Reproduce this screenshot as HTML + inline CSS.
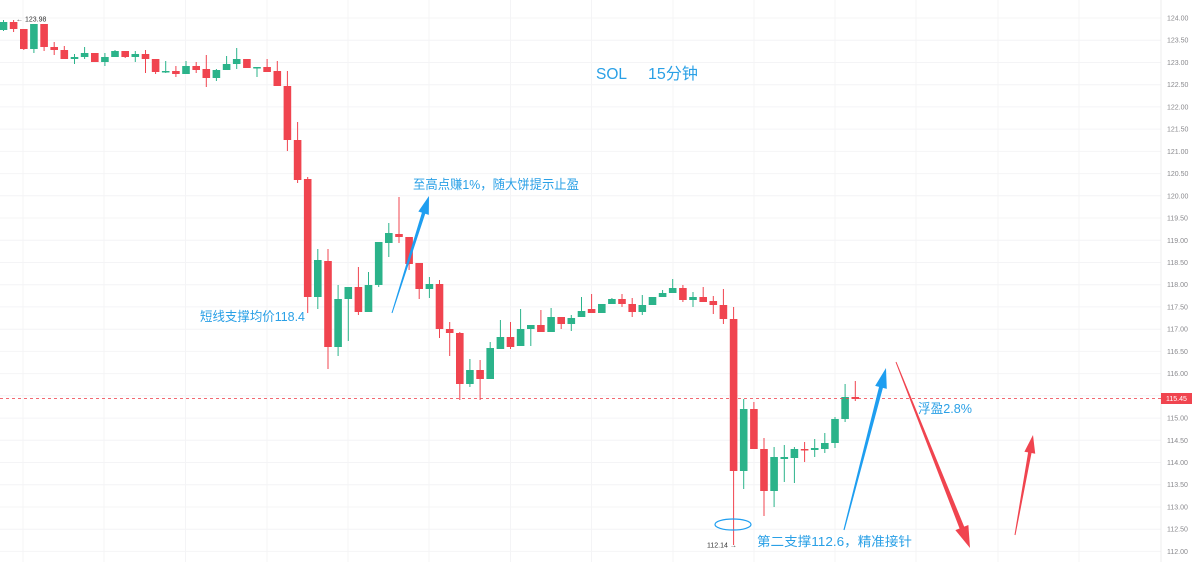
<!DOCTYPE html>
<html><head><meta charset="utf-8"><style>
html,body{margin:0;padding:0;background:#fff;width:1199px;height:562px;overflow:hidden}
svg{display:block}
text{font-family:"Liberation Sans","Noto Sans CJK SC",sans-serif}
</style></head><body>
<svg width="1199" height="562" viewBox="0 0 1199 562" xmlns="http://www.w3.org/2000/svg">
<rect width="1199" height="562" fill="#fff"/>
<g stroke="#f4f4f6" stroke-width="1">
<line x1="0" y1="18" x2="1161" y2="18"/><line x1="0" y1="40.2" x2="1161" y2="40.2"/><line x1="0" y1="62.5" x2="1161" y2="62.5"/><line x1="0" y1="84.7" x2="1161" y2="84.7"/><line x1="0" y1="106.9" x2="1161" y2="106.9"/><line x1="0" y1="129.1" x2="1161" y2="129.1"/><line x1="0" y1="151.4" x2="1161" y2="151.4"/><line x1="0" y1="173.6" x2="1161" y2="173.6"/><line x1="0" y1="195.8" x2="1161" y2="195.8"/><line x1="0" y1="218" x2="1161" y2="218"/><line x1="0" y1="240.3" x2="1161" y2="240.3"/><line x1="0" y1="262.5" x2="1161" y2="262.5"/><line x1="0" y1="284.7" x2="1161" y2="284.7"/><line x1="0" y1="306.9" x2="1161" y2="306.9"/><line x1="0" y1="329.2" x2="1161" y2="329.2"/><line x1="0" y1="351.4" x2="1161" y2="351.4"/><line x1="0" y1="373.6" x2="1161" y2="373.6"/><line x1="0" y1="395.8" x2="1161" y2="395.8"/><line x1="0" y1="418.1" x2="1161" y2="418.1"/><line x1="0" y1="440.3" x2="1161" y2="440.3"/><line x1="0" y1="462.5" x2="1161" y2="462.5"/><line x1="0" y1="484.7" x2="1161" y2="484.7"/><line x1="0" y1="507" x2="1161" y2="507"/><line x1="0" y1="529.2" x2="1161" y2="529.2"/><line x1="0" y1="551.4" x2="1161" y2="551.4"/>
<line x1="23" y1="0" x2="23" y2="562"/><line x1="104" y1="0" x2="104" y2="562"/><line x1="185.5" y1="0" x2="185.5" y2="562"/><line x1="267" y1="0" x2="267" y2="562"/><line x1="348" y1="0" x2="348" y2="562"/><line x1="429" y1="0" x2="429" y2="562"/><line x1="510.5" y1="0" x2="510.5" y2="562"/><line x1="591.5" y1="0" x2="591.5" y2="562"/><line x1="673" y1="0" x2="673" y2="562"/><line x1="754" y1="0" x2="754" y2="562"/><line x1="835" y1="0" x2="835" y2="562"/><line x1="916" y1="0" x2="916" y2="562"/><line x1="998" y1="0" x2="998" y2="562"/><line x1="1079" y1="0" x2="1079" y2="562"/>
</g>
<line x1="1161" y1="0" x2="1161" y2="562" stroke="#ececee" stroke-width="1"/>

<g fill="#2bb38a">
<rect x="3" y="20" width="1" height="11"/><rect x="-0.3" y="22" width="7.6" height="8"/>
<rect x="33.4" y="24" width="1" height="29"/><rect x="30.1" y="24" width="7.6" height="25"/>
<rect x="74" y="54" width="1" height="10"/><rect x="70.7" y="57" width="7.6" height="2"/>
<rect x="84.1" y="47" width="1" height="12"/><rect x="80.8" y="53" width="7.6" height="4"/>
<rect x="104.4" y="53" width="1" height="13"/><rect x="101.1" y="57" width="7.6" height="5"/>
<rect x="114.5" y="50" width="1" height="7"/><rect x="111.2" y="51" width="7.6" height="6"/>
<rect x="134.8" y="51" width="1" height="11"/><rect x="131.5" y="54" width="7.6" height="3"/>
<rect x="165.2" y="61" width="1" height="12"/><rect x="161.9" y="71" width="7.6" height="1.5"/>
<rect x="185.5" y="61" width="1" height="13"/><rect x="182.2" y="66" width="7.6" height="8"/>
<rect x="215.9" y="69" width="1" height="12"/><rect x="212.6" y="70" width="7.6" height="8"/>
<rect x="226.1" y="56" width="1" height="14"/><rect x="222.8" y="64" width="7.6" height="6"/>
<rect x="236.2" y="48" width="1" height="21"/><rect x="232.9" y="59" width="7.6" height="5"/>
<rect x="256.5" y="67" width="1" height="10"/><rect x="253.2" y="67" width="7.6" height="1.5"/>
<rect x="317.3" y="249" width="1" height="60"/><rect x="314" y="260" width="7.6" height="37"/>
<rect x="337.6" y="285" width="1" height="71"/><rect x="334.3" y="299" width="7.6" height="48"/>
<rect x="347.8" y="287" width="1" height="54"/><rect x="344.5" y="287" width="7.6" height="12"/>
<rect x="368" y="272" width="1" height="40"/><rect x="364.7" y="285" width="7.6" height="27"/>
<rect x="378.2" y="242" width="1" height="45"/><rect x="374.9" y="242" width="7.6" height="43"/>
<rect x="388.3" y="223" width="1" height="34"/><rect x="385" y="233" width="7.6" height="10"/>
<rect x="428.9" y="277" width="1" height="21"/><rect x="425.6" y="284" width="7.6" height="5"/>
<rect x="469.4" y="359" width="1" height="28"/><rect x="466.1" y="370" width="7.6" height="14"/>
<rect x="489.7" y="342" width="1" height="37"/><rect x="486.4" y="348" width="7.6" height="31"/>
<rect x="499.9" y="320" width="1" height="29"/><rect x="496.6" y="337" width="7.6" height="12"/>
<rect x="520.1" y="309" width="1" height="37"/><rect x="516.8" y="329" width="7.6" height="17"/>
<rect x="530.3" y="325" width="1" height="21"/><rect x="527" y="325" width="7.6" height="4"/>
<rect x="550.6" y="308" width="1" height="24"/><rect x="547.3" y="317" width="7.6" height="15"/>
<rect x="570.8" y="315" width="1" height="16"/><rect x="567.5" y="318" width="7.6" height="6"/>
<rect x="581" y="297" width="1" height="20"/><rect x="577.7" y="311" width="7.6" height="6"/>
<rect x="601.3" y="304" width="1" height="9"/><rect x="598" y="304" width="7.6" height="9"/>
<rect x="611.4" y="298" width="1" height="6"/><rect x="608.1" y="299" width="7.6" height="5"/>
<rect x="641.8" y="295" width="1" height="20"/><rect x="638.5" y="305" width="7.6" height="7"/>
<rect x="652" y="297" width="1" height="8"/><rect x="648.7" y="297" width="7.6" height="8"/>
<rect x="662.1" y="290" width="1" height="7"/><rect x="658.8" y="293" width="7.6" height="4"/>
<rect x="672.2" y="279" width="1" height="14"/><rect x="668.9" y="288" width="7.6" height="5"/>
<rect x="692.5" y="292" width="1" height="15"/><rect x="689.2" y="297" width="7.6" height="3"/>
<rect x="743.2" y="399" width="1" height="90"/><rect x="739.9" y="409" width="7.6" height="62"/>
<rect x="773.6" y="447" width="1" height="60"/><rect x="770.3" y="457" width="7.6" height="34"/>
<rect x="783.8" y="445" width="1" height="37"/><rect x="780.5" y="457" width="7.6" height="2"/>
<rect x="793.9" y="447" width="1" height="36"/><rect x="790.6" y="449" width="7.6" height="9"/>
<rect x="814.2" y="439" width="1" height="18"/><rect x="810.9" y="448" width="7.6" height="2"/>
<rect x="824.3" y="433" width="1" height="20"/><rect x="821" y="443" width="7.6" height="6"/>
<rect x="834.5" y="417" width="1" height="31"/><rect x="831.2" y="419" width="7.6" height="24"/>
<rect x="844.6" y="384" width="1" height="38"/><rect x="841.3" y="397" width="7.6" height="22"/>
</g>

<g fill="#f0444f">
<rect x="13.1" y="20" width="1" height="12"/><rect x="9.8" y="22" width="7.6" height="7"/>
<rect x="23.3" y="29" width="1" height="21"/><rect x="20" y="29" width="7.6" height="20"/>
<rect x="43.6" y="24" width="1" height="27"/><rect x="40.3" y="24" width="7.6" height="23"/>
<rect x="53.7" y="42" width="1" height="13"/><rect x="50.4" y="47" width="7.6" height="3"/>
<rect x="63.8" y="46" width="1" height="13"/><rect x="60.5" y="50" width="7.6" height="9"/>
<rect x="94.3" y="53" width="1" height="9"/><rect x="91" y="53" width="7.6" height="9"/>
<rect x="124.7" y="51" width="1" height="7"/><rect x="121.4" y="51" width="7.6" height="6"/>
<rect x="145" y="50" width="1" height="23"/><rect x="141.7" y="54" width="7.6" height="5"/>
<rect x="155.1" y="59" width="1" height="15"/><rect x="151.8" y="59" width="7.6" height="13"/>
<rect x="175.4" y="66" width="1" height="11"/><rect x="172.1" y="71" width="7.6" height="3"/>
<rect x="195.7" y="62" width="1" height="11"/><rect x="192.4" y="66" width="7.6" height="4"/>
<rect x="205.8" y="55" width="1" height="32"/><rect x="202.5" y="69" width="7.6" height="9"/>
<rect x="246.4" y="59" width="1" height="9"/><rect x="243.1" y="59" width="7.6" height="9"/>
<rect x="266.6" y="59" width="1" height="13"/><rect x="263.3" y="67" width="7.6" height="5"/>
<rect x="276.8" y="61" width="1" height="25"/><rect x="273.5" y="71" width="7.6" height="15"/>
<rect x="286.9" y="71" width="1" height="80"/><rect x="283.6" y="86" width="7.6" height="54"/>
<rect x="297.1" y="122" width="1" height="61"/><rect x="293.8" y="140" width="7.6" height="40"/>
<rect x="307.2" y="177" width="1" height="136"/><rect x="303.9" y="179" width="7.6" height="118"/>
<rect x="327.5" y="249" width="1" height="120"/><rect x="324.2" y="261" width="7.6" height="86"/>
<rect x="357.9" y="267" width="1" height="48"/><rect x="354.6" y="287" width="7.6" height="25"/>
<rect x="398.5" y="197" width="1" height="46"/><rect x="395.2" y="234" width="7.6" height="3"/>
<rect x="408.6" y="237" width="1" height="33"/><rect x="405.3" y="237" width="7.6" height="27"/>
<rect x="418.7" y="263" width="1" height="36"/><rect x="415.4" y="263" width="7.6" height="26"/>
<rect x="439" y="280" width="1" height="58"/><rect x="435.7" y="284" width="7.6" height="45"/>
<rect x="449.2" y="322" width="1" height="34"/><rect x="445.9" y="329" width="7.6" height="4"/>
<rect x="459.3" y="332" width="1" height="68"/><rect x="456" y="333" width="7.6" height="51"/>
<rect x="479.6" y="360" width="1" height="40"/><rect x="476.3" y="370" width="7.6" height="9"/>
<rect x="510" y="322" width="1" height="27"/><rect x="506.7" y="337" width="7.6" height="10"/>
<rect x="540.4" y="310" width="1" height="22"/><rect x="537.1" y="325" width="7.6" height="7"/>
<rect x="560.7" y="317" width="1" height="12"/><rect x="557.4" y="317" width="7.6" height="7"/>
<rect x="591.1" y="294" width="1" height="19"/><rect x="587.8" y="309" width="7.6" height="4"/>
<rect x="621.5" y="294" width="1" height="13"/><rect x="618.2" y="299" width="7.6" height="5"/>
<rect x="631.7" y="298" width="1" height="19"/><rect x="628.4" y="304" width="7.6" height="8"/>
<rect x="682.4" y="285" width="1" height="17"/><rect x="679.1" y="288" width="7.6" height="12"/>
<rect x="702.7" y="287" width="1" height="15"/><rect x="699.4" y="297" width="7.6" height="5"/>
<rect x="712.8" y="296" width="1" height="18"/><rect x="709.5" y="301" width="7.6" height="4"/>
<rect x="722.9" y="289" width="1" height="35"/><rect x="719.6" y="305" width="7.6" height="14"/>
<rect x="733.1" y="307" width="1" height="238"/><rect x="729.8" y="319" width="7.6" height="152"/>
<rect x="753.4" y="402" width="1" height="47"/><rect x="750.1" y="409" width="7.6" height="40"/>
<rect x="763.5" y="438" width="1" height="78"/><rect x="760.2" y="449" width="7.6" height="42"/>
<rect x="804.1" y="442" width="1" height="20"/><rect x="800.8" y="449" width="7.6" height="1.5"/>
<rect x="854.8" y="381" width="1" height="20"/><rect x="851.5" y="397" width="7.6" height="2"/>
</g>

<line x1="0" y1="398.5" x2="1161" y2="398.5" stroke="#f0444f" stroke-width="1" stroke-dasharray="3,3" opacity="0.8"/>
<rect x="1161" y="393" width="31" height="11" fill="#f0444f"/>
<text x="1166" y="401" font-size="7" fill="#fff">115.45</text>

<g font-size="7" fill="#8a8a8e">
<text x="1167" y="20.5">124.00</text><text x="1167" y="42.7">123.50</text><text x="1167" y="65">123.00</text><text x="1167" y="87.2">122.50</text><text x="1167" y="109.4">122.00</text><text x="1167" y="131.6">121.50</text><text x="1167" y="153.9">121.00</text><text x="1167" y="176.1">120.50</text><text x="1167" y="198.3">120.00</text><text x="1167" y="220.5">119.50</text><text x="1167" y="242.8">119.00</text><text x="1167" y="265">118.50</text><text x="1167" y="287.2">118.00</text><text x="1167" y="309.4">117.50</text><text x="1167" y="331.7">117.00</text><text x="1167" y="353.9">116.50</text><text x="1167" y="376.1">116.00</text><text x="1167" y="420.6">115.00</text><text x="1167" y="442.8">114.50</text><text x="1167" y="465">114.00</text><text x="1167" y="487.2">113.50</text><text x="1167" y="509.5">113.00</text><text x="1167" y="531.7">112.50</text><text x="1167" y="553.9">112.00</text>
</g>

<text x="16" y="21.5" font-size="7" fill="#333">← 123.98</text>
<text x="707" y="547.5" font-size="7" fill="#333">112.14 →</text>

<text x="596" y="79" font-size="16" fill="#2aa0e6" textLength="31" lengthAdjust="spacingAndGlyphs">SOL</text>
<text x="648" y="79" font-size="16" fill="#2aa0e6" textLength="50" lengthAdjust="spacingAndGlyphs">15分钟</text>

<g fill="#2aa0e6" font-size="13">
<text x="413" y="189" textLength="166" lengthAdjust="spacingAndGlyphs">至高点赚1%，随大饼提示止盈</text>
<text x="200" y="321" textLength="105" lengthAdjust="spacingAndGlyphs">短线支撑均价118.4</text>
<text x="757" y="546" textLength="155" lengthAdjust="spacingAndGlyphs">第二支撑112.6，精准接针</text>
<text x="918" y="413" textLength="54" lengthAdjust="spacingAndGlyphs">浮盈2.8%</text>
</g>

<ellipse cx="733" cy="524.5" rx="18" ry="5.5" fill="none" stroke="#1e9ef0" stroke-width="1.2"/>

<polygon fill="#1e9ef0" points="391.52,312.85 421.90,212.63 418.33,211.50 429,196 428.81,214.82 425.24,213.69 392.48,313.15"/>
<polygon fill="#1e9ef0" points="843.42,529.85 879.04,386.86 875.17,385.85 886,368 886.79,388.87 882.92,387.86 844.58,530.15"/>
<polygon fill="#f0444f" points="895.54,362.18 959.55,528.48 955.37,530.15 970,548 968.37,524.97 964.19,526.64 896.46,361.82"/>
<polygon fill="#f0444f" points="1014.51,534.91 1028.09,452.41 1024.40,451.75 1033,435 1035.22,453.69 1031.53,453.03 1015.49,535.09"/>
</svg>
</body></html>
